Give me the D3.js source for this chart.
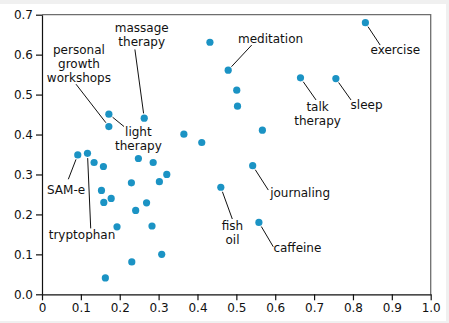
<!DOCTYPE html>
<html>
<head>
<meta charset="utf-8">
<script src="https://cdn.jsdelivr.net/npm/d3@7"></script>
<style>
  html, body { margin: 0; padding: 0; background: #f0f0f0; }
  svg { display: block; }
  text { font-family: "DejaVu Sans", Verdana, sans-serif; font-size: 12px; fill: #111; }
</style>
</head>
<body>
<svg id="chart" width="449" height="323"></svg>
<script>
// ---- data ----
const xValues = [0.832, 0.432, 0.479, 0.665, 0.756, 0.501, 0.503, 0.172, 0.172, 0.263,
                 0.567, 0.365, 0.411, 0.092, 0.117, 0.134, 0.158, 0.248, 0.286, 0.542,
                 0.321, 0.302, 0.230, 0.460, 0.153, 0.178, 0.159, 0.269, 0.241, 0.558,
                 0.193, 0.283, 0.308, 0.231, 0.163];
const yValues = [0.680, 0.631, 0.561, 0.542, 0.540, 0.511, 0.471, 0.451, 0.420, 0.441,
                 0.411, 0.401, 0.380, 0.349, 0.353, 0.330, 0.320, 0.340, 0.330, 0.322,
                 0.300, 0.282, 0.279, 0.268, 0.260, 0.240, 0.230, 0.229, 0.210, 0.180,
                 0.169, 0.171, 0.100, 0.081, 0.041];
const xTicks = [0, 0.1, 0.2, 0.3, 0.4, 0.5, 0.6, 0.7, 0.8, 0.9, 1.0];
const yTicks = [0, 0.1, 0.2, 0.3, 0.4, 0.5, 0.6, 0.7];
const xTickLabels = ["0", "0.1", "0.2", "0.3", "0.4", "0.5", "0.6", "0.7", "0.8", "0.9", "1.0"];
const yTickLabels = ["0.0", "0.1", "0.2", "0.3", "0.4", "0.5", "0.6", "0.7"];

// annotated points: index into values, label lines
const labelPoint = [0, 2, 3, 4, 9, 8, 7, 13, 14, 19, 23, 29];
const labelText = [["exercise"], ["meditation"], ["talk", "therapy"], ["sleep"],
                   ["massage", "therapy"], ["personal", "growth", "workshops"], ["light", "therapy"],
                   ["SAM-e"], ["tryptophan"], ["journaling"], ["fish", "oil"], ["caffeine"]];
// label anchor (data units) and leader end (data units)
const labelX = [0.909, 0.588, 0.709, 0.835, 0.2565, 0.095, 0.248, 0.062, 0.103, 0.664, 0.490, 0.657];
const labelY = [0.613, 0.6385, 0.470, 0.474, 0.666, 0.613, 0.4056, 0.261, 0.150, 0.253, 0.171, 0.1167];
const leaderX = [0.870, 0.5395, 0.705, 0.795, 0.239, 0.0875, 0.211, 0.0677, 0.1253, 0.5822, 0.4896, 0.595];
const leaderY = [0.624, 0.624, 0.4865, 0.4865, 0.613, 0.526, 0.420, 0.288, 0.165, 0.261, 0.1885, 0.119];

// ---- layout ----
const mLeft = 42, mRight = 430.7, mTop = 14.7, mBottom = 294.3;
const svg = d3.select("#chart");

svg.append("rect").attr("x", 0).attr("y", 4).attr("width", 446).attr("height", 317).attr("fill", "#fff");

const x = d3.scaleLinear().domain([0, 1]).range([mLeft, mRight]);
const y = d3.scaleLinear().domain([0, 0.7]).range([mBottom, mTop]);

// frame (top & right)
svg.append("path")
  .attr("d", `M${x(0)},${y(0.7)}H${x(1)}V${y(0)}`)
  .attr("fill", "none").attr("stroke", "#6e6e6e").attr("stroke-width", 1.3);

const xAxis = d3.axisBottom(x).tickValues(xTicks)
  .tickFormat((d, i) => xTickLabels[i]).tickSize(6).tickSizeOuter(0).tickPadding(3);
const yAxis = d3.axisLeft(y).tickValues(yTicks)
  .tickFormat((d, i) => yTickLabels[i]).tickSize(6).tickSizeOuter(0).tickPadding(3);

const gx = svg.append("g").attr("transform", `translate(0,${mBottom})`).call(xAxis);
const gy = svg.append("g").attr("transform", `translate(${mLeft},0)`).call(yAxis);
[gx, gy].forEach(g => {
  g.selectAll("text").style("font-family", '"DejaVu Sans", Verdana, sans-serif').style("font-size", "12px").attr("fill", "#111");
  g.selectAll("path, line").attr("stroke", "#111").attr("stroke-width", 1.2);
});

// leaders
const r = 3.6;
const leaders = svg.append("g");
labelPoint.forEach((pi, k) => {
  const px = x(xValues[pi]), py = y(yValues[pi]);
  const ex = x(leaderX[k]), ey = y(leaderY[k]);
  const dx = ex - px, dy = ey - py, len = Math.hypot(dx, dy);
  const off = r + 1.2;
  leaders.append("line")
    .attr("x1", px + dx / len * off).attr("y1", py + dy / len * off)
    .attr("x2", ex).attr("y2", ey)
    .attr("stroke", "#111").attr("stroke-width", 1);
});

// points
svg.append("g").selectAll("circle")
  .data(xValues.map((v, i) => [v, yValues[i]]))
  .join("circle")
  .attr("cx", d => x(d[0])).attr("cy", d => y(d[1]))
  .attr("r", r).attr("fill", "#1b93c4");

// labels
const lineH = 14;
labelText.forEach((lines, k) => {
  const t = svg.append("text")
    .attr("x", x(labelX[k])).attr("y", y(labelY[k]))
    .attr("text-anchor", "middle");
  lines.forEach((s, j) => {
    t.append("tspan").attr("x", x(labelX[k])).attr("y", y(labelY[k]) + j * lineH)
      .attr("dy", "0.35em").text(s);
  });
});
</script>
</body>
</html>
